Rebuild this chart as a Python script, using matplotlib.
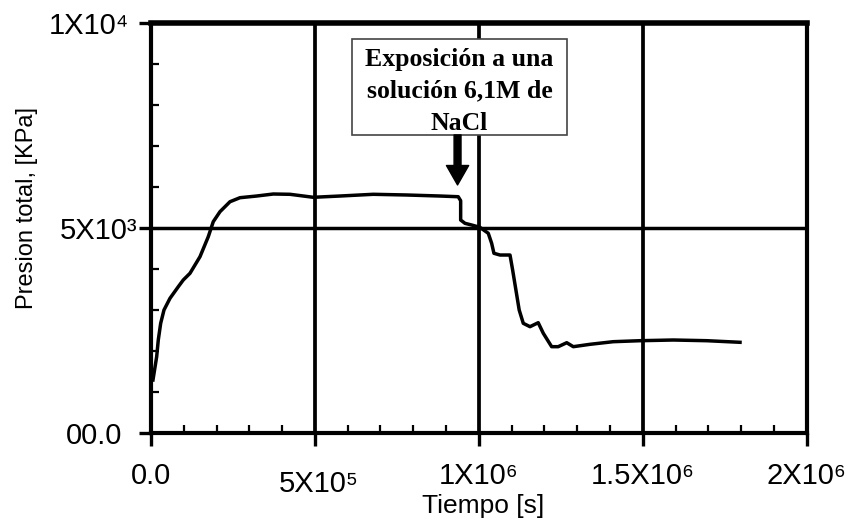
import numpy as np
import matplotlib
matplotlib.use('Agg')
import matplotlib.pyplot as plt
from matplotlib.patches import Rectangle
from matplotlib.ticker import MultipleLocator
from matplotlib.transforms import ScaledTranslation

plt.rcParams['font.family'] = ['Liberation Sans', 'DejaVu Sans']

# presion total vs tiempo
tiempo = [6.1e3, 1.74e4, 2.23e4, 2.96e4, 3.97e4, 5.8e4, 8.33e4, 9.85e4,
          1.19e5, 1.495e5, 1.748e5, 1.9e5, 2.105e5, 2.41e5, 2.715e5, 3.224e5,
          3.73e5, 4.24e5, 4.95e5, 5.765e5, 6.78e5, 7.8e5, 8.815e5, 9.37e5,
          9.445e5, 9.445e5, 9.577e5, 9.78e5, 1.003e6, 1.0287e6, 1.039e6,
          1.046e6, 1.0645e6, 1.095e6, 1.103e6, 1.113e6, 1.123e6, 1.1355e6,
          1.156e6, 1.181e6, 1.1965e6, 1.222e6, 1.242e6, 1.268e6, 1.288e6,
          1.339e6, 1.41e6, 1.4915e6, 1.593e6, 1.695e6, 1.7965e6]
presion = [1293, 1861, 2268, 2675, 3000, 3285, 3568, 3732,
           3895, 4300, 4788, 5154, 5398, 5641, 5739, 5780,
           5829, 5822, 5749, 5780, 5822, 5805, 5780, 5763,
           5666, 5195, 5114, 5073, 5017, 4871, 4627,
           4383, 4341, 4341, 3976, 3488, 3000, 2675,
           2593, 2690, 2432, 2105, 2105, 2202, 2105,
           2163, 2227, 2251, 2268, 2251, 2212]

x_ticks = [0, 5e5, 1e6, 1.5e6, 2e6]
x_labels = ['0.0', '5X10⁵', '1X10⁶', '1.5X10⁶', '2X10⁶']
y_ticks = [0, 5000, 10000]
y_labels = ['00.0', '5X10³', '1X10⁴']

# momento de la exposicion a NaCl
t_nacl = 9.35e5

fig = plt.figure(figsize=(8.51, 5.29), dpi=100)
ax = fig.add_axes([0.1774, 0.1815, 0.7706, 0.775])

ax.plot(tiempo, presion, color='black', lw=2.5, solid_joinstyle='round', zorder=4)

ax.set_xlim(0, 2e6)
ax.set_ylim(0, 10000)
ax.set_xticks(x_ticks)
ax.set_xticklabels(x_labels, fontsize=21)
ax.set_yticks(y_ticks)
ax.set_yticklabels(y_labels, fontsize=21)
ax.xaxis.set_minor_locator(MultipleLocator(1e5))
ax.yaxis.set_minor_locator(MultipleLocator(1000))

ax.tick_params(which='major', direction='out', length=9, width=2.4, color='black')
ax.tick_params(axis='x', which='major', pad=12)
ax.tick_params(axis='y', which='major', pad=0.5)
ax.tick_params(which='minor', direction='in', length=6, width=1.6, color='black')

for s in ax.spines.values():
    s.set_linewidth(3.0)
ax.spines['top'].set_linewidth(4.0)

for xv in x_ticks[1:-1]:
    ax.axvline(xv, color='black', lw=2.7, zorder=2)
ax.axhline(5000, color='black', lw=2.5, zorder=2)

# ajustes finos de las etiquetas
def shift(label, dx, dy):
    label.set_transform(label.get_transform() + ScaledTranslation(dx / 72, dy / 72, fig.dpi_scale_trans))

xl = ax.get_xticklabels()
shift(xl[1], 3, -6)
yl = ax.get_yticklabels()
shift(yl[0], -11.5, 0)
shift(yl[2], -6, 0)

ax.set_xlabel('Tiempo [s]', fontsize=19)
ax.xaxis.set_label_coords(0.506, -0.150)
ax.set_ylabel('Presion total, [KPa]', fontsize=17)
ax.yaxis.set_label_coords(-0.172, 0.549)

# caja de la anotacion
box = Rectangle((0.306, 0.727), 0.329, 0.233, transform=ax.transAxes,
                facecolor='white', edgecolor='#444444', lw=1.2, zorder=5)
ax.add_patch(box)
ax.text(0.4706, 0.834, 'Exposición a una\nsolución 6,1M de\nNaCl', transform=ax.transAxes,
        ha='center', va='center', fontsize=18.5, fontweight='bold',
        family=['Liberation Serif', 'DejaVu Serif'], linespacing=1.5, zorder=6)

ax.annotate('', xy=(t_nacl, 6050), xytext=(t_nacl, 7270),
            arrowprops=dict(facecolor='black', edgecolor='black', width=5,
                            headwidth=16, headlength=14, shrink=0), zorder=6)

fig.savefig('out.png', dpi=100)
